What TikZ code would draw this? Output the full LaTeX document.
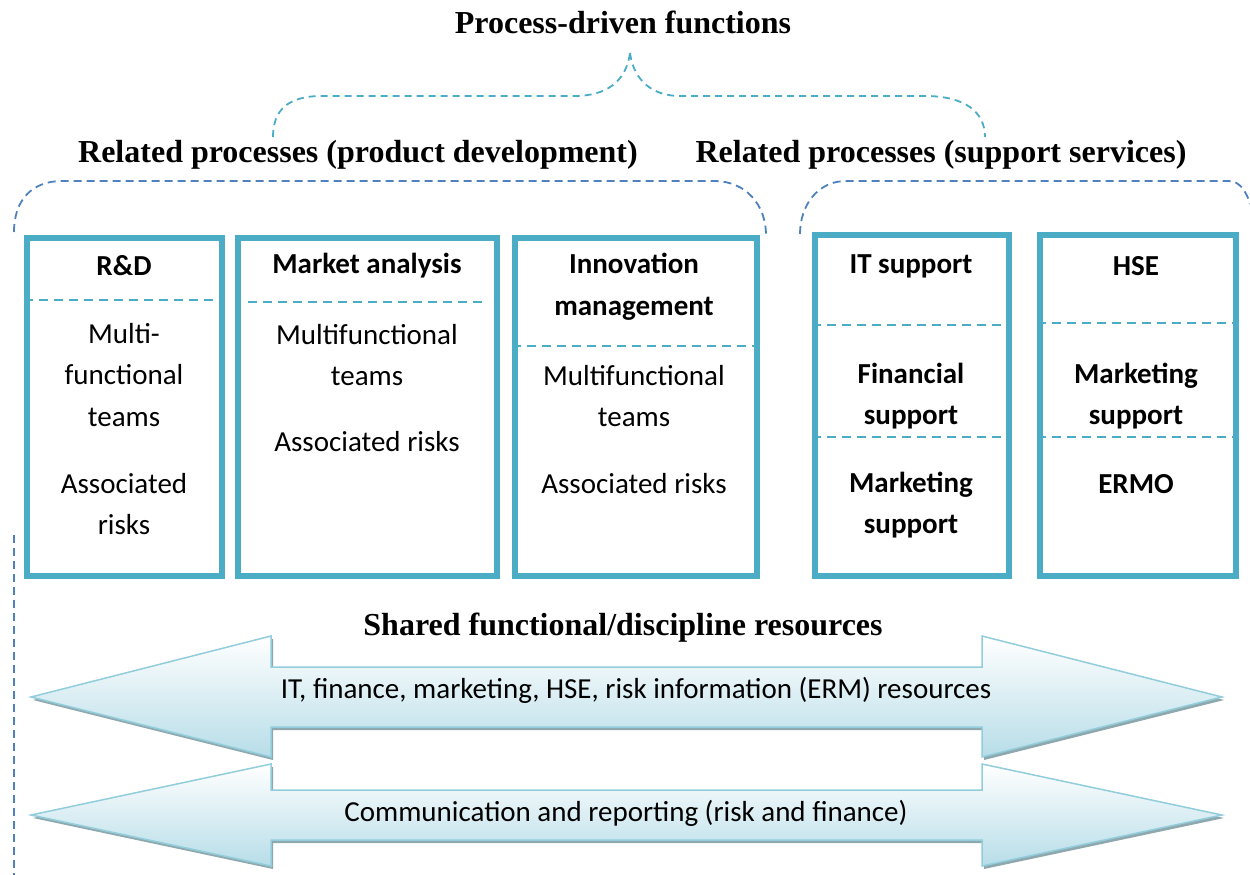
\documentclass[tikz,border=0pt]{standalone}
\usepackage{fontspec}
\setmainfont{Carlito}
\newfontfamily\headserif{Liberation Serif}
\definecolor{boxc}{HTML}{4BACC6}
\definecolor{bracec}{HTML}{4F81BD}
\definecolor{arrline}{HTML}{92CDDC}
\definecolor{arrfill}{HTML}{B7DDE8}
\definecolor{arrshadow}{HTML}{8FA8AE}
\tikzset{
  boxnode/.style={draw=boxc, line width=6pt, inner sep=0pt, fill=white},
  sep/.style={draw=boxc, line width=2.2pt, dash pattern=on 9pt off 6pt},
  topbrace/.style={draw=boxc, line width=1.8pt, dash pattern=on 7pt off 5pt},
  subbrace/.style={draw=bracec, line width=1.8pt, dash pattern=on 8pt off 5pt},
  ttl/.style={font=\headserif\bfseries\fontsize{32}{36}\selectfont, inner sep=0pt},
  txt/.style={font=\fontsize{29}{41.5}\selectfont, align=center, inner sep=0pt},
  btxt/.style={font=\bfseries\fontsize{29}{41.5}\selectfont, align=center, inner sep=0pt},
  arrtxt/.style={font=\fontsize{29}{33}\selectfont, inner sep=0pt},
}
\begin{document}
\begin{tikzpicture}[x=1pt,y=-1pt]
\useasboundingbox (0,0) rectangle (1250,875);
\clip (0,0) rectangle (1250,875);
% titles
\node[ttl] (t0) at (623,22) {Process-driven functions};
\node[ttl] (t1) at (358,155) {Related processes (product development)};
\node[ttl] (t2) at (941,155) {Related processes (support services)};
% top brace
\coordinate (bl) at (273,137);
\coordinate (bp) at (630,53);
\coordinate (br) at (985,137);
\draw[topbrace] (bl) .. controls (273,110) and (288,96) .. (322,96) -- (574,96)
  .. controls (606,96) and (626,82) .. (bp);
\draw[topbrace] (bp) .. controls (634,82) and (654,96) .. (680,96) -- (925,96)
  .. controls (965,96) and (985,112) .. (br);
% sub braces
\coordinate (l1) at (14,232);
\coordinate (l2) at (766,235);
\coordinate (r1) at (800,234);
\coordinate (r2) at (1262,240);
\draw[subbrace] (l1) .. controls (14,200) and (32,181) .. (62,181) -- (714,181)
  .. controls (746,181) and (766,205) .. (l2);
\draw[subbrace] (r1) .. controls (800,205) and (818,181) .. (846,181) -- (1228,181)
  .. controls (1245,181) and (1250,200) .. (r2);
% vertical dashed line
\coordinate (v1) at (14,535);
\coordinate (v2) at (14,880);
\draw[subbrace] (v1) -- (v2);
% boxes
\node[boxnode, minimum width=195pt, minimum height=338pt] (b1) at (124.5,407) {};
\node[boxnode, minimum width=259pt, minimum height=338pt] (b2) at (367.5,407) {};
\node[boxnode, minimum width=242pt, minimum height=338pt] (b3) at (636,407) {};
\node[boxnode, minimum width=194pt, minimum height=341pt] (b4) at (912,405.5) {};
\node[boxnode, minimum width=196pt, minimum height=341pt] (b5) at (1138,405.5) {};
% separators
\draw[sep] (b1.west |- 0,300) -- (b1.east |- 0,300);
\draw[sep] (248,302) -- (483,302);
\draw[sep] (b3.west |- 0,346) -- (b3.east |- 0,346);
\draw[sep] (b4.west |- 0,325) -- (b4.east |- 0,325);
\draw[sep] (b4.west |- 0,437) -- (b4.east |- 0,437);
\draw[sep] (b5.west |- 0,323) -- (b5.east |- 0,323);
\draw[sep] (b5.west |- 0,437) -- (b5.east |- 0,437);
% box texts
\node[btxt] (h1) at (124,266) {R\&D};
\node[txt] (c1) at (124,375) {Multi-\\functional\\teams};
\node[txt] (d1) at (124,504) {Associated\\risks};
\node[btxt] (h2) at (367,266) {Market analysis};
\node[txt] (c2) at (367,355) {Multifunctional\\teams};
\node[txt] (d2) at (367,442) {Associated risks};
\node[btxt] (h3) at (634,287) {Innovation\\management};
\node[txt] (c3) at (634,396) {Multifunctional\\teams};
\node[txt] (d3) at (634,484) {Associated risks};
\node[btxt] (h4) at (911,266) {IT support};
\node[btxt] (c4) at (911,396) {Financial\\support};
\node[btxt] (d4) at (911,505) {Marketing\\support};
\node[btxt] (h5) at (1136,266) {HSE};
\node[btxt] (c5) at (1136,396) {Marketing\\support};
\node[btxt] (d5) at (1136,484) {ERMO};
% shared resources title
\node[ttl] (t3) at (623,628) {Shared functional/discipline resources};
% arrow 1
\fill[arrshadow] ([shift={(2,3)}]31,697) -- ([shift={(2,3)}]271,636) -- ([shift={(2,3)}]271,667) -- ([shift={(2,3)}]982,667) -- ([shift={(2,3)}]982,636) -- ([shift={(2,3)}]1222,697) -- ([shift={(2,3)}]982,757) -- ([shift={(2,3)}]982,727) -- ([shift={(2,3)}]271,727) -- ([shift={(2,3)}]271,757) -- cycle;
\shade[top color=white, bottom color=arrfill, draw=arrline, line width=1.5pt, line join=miter]
  (31,697) -- (271,636) -- (271,667) -- (982,667) -- (982,636) -- (1222,697) -- (982,757) -- (982,727) -- (271,727) -- (271,757) -- cycle;
\node[arrtxt] (a1) at (636,690) {IT, finance, marketing, HSE, risk information (ERM) resources};
% arrow 2
\fill[arrshadow] ([shift={(2,3)}]31,815) -- ([shift={(2,3)}]271,764) -- ([shift={(2,3)}]271,790) -- ([shift={(2,3)}]982,790) -- ([shift={(2,3)}]982,764) -- ([shift={(2,3)}]1222,815) -- ([shift={(2,3)}]982,866) -- ([shift={(2,3)}]982,840) -- ([shift={(2,3)}]271,840) -- ([shift={(2,3)}]271,866) -- cycle;
\shade[top color=white, bottom color=arrfill, draw=arrline, line width=1.5pt, line join=miter]
  (31,815) -- (271,764) -- (271,790) -- (982,790) -- (982,764) -- (1222,815) -- (982,866) -- (982,840) -- (271,840) -- (271,866) -- cycle;
\node[arrtxt] (a2) at (626,813) {Communication and reporting (risk and finance)};
\end{tikzpicture}
\end{document}
